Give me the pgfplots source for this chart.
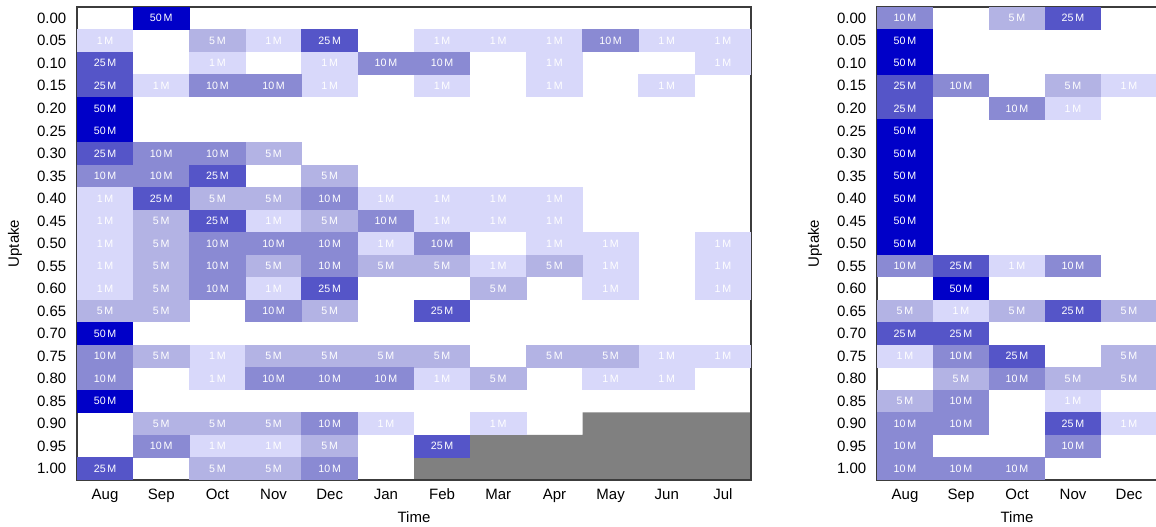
\documentclass[border=0pt]{standalone}
\usepackage{pgfplots}
\usepackage{pgfplotstable}
\usepackage{fontspec}
\setmainfont{Liberation Sans}
\pgfplotsset{compat=1.18}
\definecolor{cA}{RGB}{216,216,250}
\definecolor{cB}{RGB}{179,179,228}
\definecolor{cC}{RGB}{138,138,211}
\definecolor{cD}{RGB}{85,85,200}
\definecolor{cE}{RGB}{0,0,200}
\definecolor{framecol}{RGB}{60,60,60}
\definecolor{greyfill}{RGB}{128,128,128}
\pgfdeclareplotmark{cell}{\pgfpathrectangle{\pgfpoint{-21.25pt}{-8.55pt}}{\pgfpoint{42.5pt}{17.1pt}}\pgfusepathqfill}

\pgfplotstableread{
x y v
1 0.00 50
0 0.05 1
2 0.05 5
3 0.05 1
4 0.05 25
6 0.05 1
7 0.05 1
8 0.05 1
9 0.05 10
10 0.05 1
11 0.05 1
0 0.10 25
2 0.10 1
4 0.10 1
5 0.10 10
6 0.10 10
8 0.10 1
11 0.10 1
0 0.15 25
1 0.15 1
2 0.15 10
3 0.15 10
4 0.15 1
6 0.15 1
8 0.15 1
10 0.15 1
0 0.20 50
0 0.25 50
0 0.30 25
1 0.30 10
2 0.30 10
3 0.30 5
0 0.35 10
1 0.35 10
2 0.35 25
4 0.35 5
0 0.40 1
1 0.40 25
2 0.40 5
3 0.40 5
4 0.40 10
5 0.40 1
6 0.40 1
7 0.40 1
8 0.40 1
0 0.45 1
1 0.45 5
2 0.45 25
3 0.45 1
4 0.45 5
5 0.45 10
6 0.45 1
7 0.45 1
8 0.45 1
0 0.50 1
1 0.50 5
2 0.50 10
3 0.50 10
4 0.50 10
5 0.50 1
6 0.50 10
8 0.50 1
9 0.50 1
11 0.50 1
0 0.55 1
1 0.55 5
2 0.55 10
3 0.55 5
4 0.55 10
5 0.55 5
6 0.55 5
7 0.55 1
8 0.55 5
9 0.55 1
11 0.55 1
0 0.60 1
1 0.60 5
2 0.60 10
3 0.60 1
4 0.60 25
7 0.60 5
9 0.60 1
11 0.60 1
0 0.65 5
1 0.65 5
3 0.65 10
4 0.65 5
6 0.65 25
0 0.70 50
0 0.75 10
1 0.75 5
2 0.75 1
3 0.75 5
4 0.75 5
5 0.75 5
6 0.75 5
8 0.75 5
9 0.75 5
10 0.75 1
11 0.75 1
0 0.80 10
2 0.80 1
3 0.80 10
4 0.80 10
5 0.80 10
6 0.80 1
7 0.80 5
9 0.80 1
10 0.80 1
0 0.85 50
1 0.90 5
2 0.90 5
3 0.90 5
4 0.90 10
5 0.90 1
7 0.90 1
1 0.95 10
2 0.95 1
3 0.95 1
4 0.95 5
6 0.95 25
0 1.00 25
2 1.00 5
3 1.00 5
4 1.00 10
}\lefttab

\pgfplotstableread{
x y v
0 0.00 10
2 0.00 5
3 0.00 25
0 0.05 50
0 0.10 50
0 0.15 25
1 0.15 10
3 0.15 5
4 0.15 1
0 0.20 25
2 0.20 10
3 0.20 1
0 0.25 50
0 0.30 50
0 0.35 50
0 0.40 50
0 0.45 50
0 0.50 50
0 0.55 10
1 0.55 25
2 0.55 1
3 0.55 10
1 0.60 50
0 0.65 5
1 0.65 1
2 0.65 5
3 0.65 25
4 0.65 5
0 0.70 25
1 0.70 25
0 0.75 1
1 0.75 10
2 0.75 25
4 0.75 5
1 0.80 5
2 0.80 10
3 0.80 5
4 0.80 5
0 0.85 5
1 0.85 10
3 0.85 1
0 0.90 10
1 0.90 10
3 0.90 25
4 0.90 1
0 0.95 10
3 0.95 10
0 1.00 10
1 1.00 10
2 1.00 10
}\righttab

\pgfplotsset{
  panelL/.style={at={(0pt,0pt)}, anchor=south west, width=505.5pt, xmin=-0.5, xmax=11.5},
  panelR/.style={at={(600pt,0pt)}, anchor=south west, width=210pt, xmin=-0.5, xmax=4.5},
  heatframe/.style={
    scale only axis,
    height=354.75pt,
    ymin=-0.025, ymax=1.025,
    y dir=reverse,
  },
  heat/.style={
    heatframe,
    axis on top,
    unbounded coords=discard,
    major tick length=0pt,
    axis line style={draw=framecol, line width=1.1pt},
    ytick={0,0.05,0.1,0.15,0.2,0.25,0.3,0.35,0.4,0.45,0.5,0.55,0.6,0.65,0.7,0.75,0.8,0.85,0.9,0.95,1},
    yticklabels={0.00,0.05,0.10,0.15,0.20,0.25,0.30,0.35,0.40,0.45,0.50,0.55,0.60,0.65,0.70,0.75,0.80,0.85,0.90,0.95,1.00},
    tick label style={font=\fontsize{11.25}{13}\selectfont, text=black},
    yticklabel style={xshift=-4.5pt},
    xticklabel style={yshift=-3pt},
    xlabel={Time}, ylabel={Uptake},
    every axis x label/.style={at={(axis description cs:0.5,0)}, anchor=center, yshift=-27.75pt, font=\fontsize{11.25}{13}\selectfont},
    every axis y label/.style={at={(axis description cs:0,0.5)}, anchor=center, rotate=90, yshift=46.5pt, font=\fontsize{11.25}{13}\selectfont},
  },
  cellsof/.style 2 args={
    only marks, mark=cell, mark options={fill=#1, draw=none},
    restrict expr to domain={\thisrow{v}-#2}{-0.5:0.5},
  },
  labelplot/.style={
    only marks, mark=none,
    point meta=explicit symbolic,
    nodes near coords={\pgfplotspointmeta\,M},
    every node near coord/.append style={anchor=center, inner sep=0pt, text=white, font=\fontsize{8}{9}\selectfont},
  },
}

\begin{document}
\begin{tikzpicture}
% grey region (no data) beneath the left heatmap
\begin{axis}[heatframe, panelL, hide axis]
\addplot[fill=greyfill, draw=none, mark=none] coordinates {(5.5,1.025) (5.5,0.975) (6.5,0.975) (6.5,0.925) (8.5,0.925) (8.5,0.875) (11.5,0.875) (11.5,1.025) (5.5,1.025)};
\end{axis}
\begin{axis}[heat, panelL,
  xtick={0,1,2,3,4,5,6,7,8,9,10,11},
  xticklabels={Aug,Sep,Oct,Nov,Dec,Jan,Feb,Mar,Apr,May,Jun,Jul}]
\addplot[cellsof={cA}{1}] table[x=x, y=y] {\lefttab};
\addplot[cellsof={cB}{5}] table[x=x, y=y] {\lefttab};
\addplot[cellsof={cC}{10}] table[x=x, y=y] {\lefttab};
\addplot[cellsof={cD}{25}] table[x=x, y=y] {\lefttab};
\addplot[cellsof={cE}{50}] table[x=x, y=y] {\lefttab};
\end{axis}
\begin{axis}[heatframe, panelL, hide axis]
\addplot[labelplot] table[x=x, y=y, meta=v] {\lefttab};
\end{axis}
\begin{axis}[heat, panelR,
  xtick={0,1,2,3,4},
  xticklabels={Aug,Sep,Oct,Nov,Dec}]
\addplot[cellsof={cA}{1}] table[x=x, y=y] {\righttab};
\addplot[cellsof={cB}{5}] table[x=x, y=y] {\righttab};
\addplot[cellsof={cC}{10}] table[x=x, y=y] {\righttab};
\addplot[cellsof={cD}{25}] table[x=x, y=y] {\righttab};
\addplot[cellsof={cE}{50}] table[x=x, y=y] {\righttab};
\end{axis}
\begin{axis}[heatframe, panelR, hide axis]
\addplot[labelplot] table[x=x, y=y, meta=v] {\righttab};
\end{axis}
\pgfresetboundingbox
\useasboundingbox (-57.75pt,-35.25pt) rectangle (809.25pt,360pt);
\end{tikzpicture}
\end{document}
